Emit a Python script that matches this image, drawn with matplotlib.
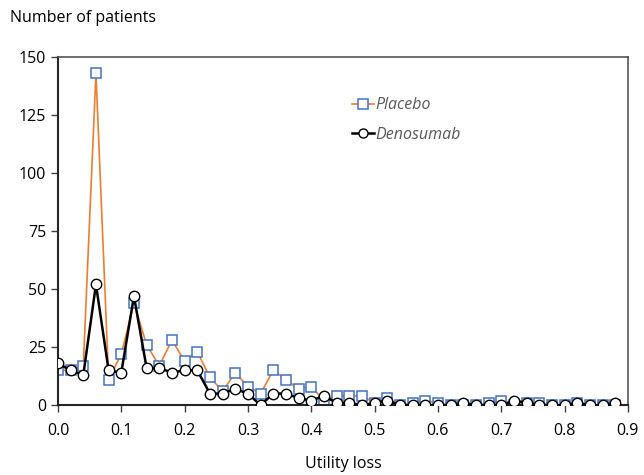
import matplotlib
matplotlib.use("Agg")
import matplotlib.pyplot as plt
import numpy as np

plt.rcParams['font.family'] = ['Open Sans', 'DejaVu Sans']

utility_loss = np.round(np.arange(0, 0.89, 0.02), 2)

placebo = [15, 15, 17, 143, 11, 22, 44, 26, 17, 28,
           19, 23, 12, 6, 14, 8, 5, 15, 11, 7,
           8, 2, 4, 4, 4, 1, 3, 0, 1, 2,
           1, 0, 0, 0, 1, 2, 0, 1, 1, 0,
           0, 1, 0, 0, 0]

denosumab = [18, 15, 13, 52, 15, 14, 47, 16, 16, 14,
             15, 15, 5, 5, 7, 5, 0, 5, 5, 3,
             2, 4, 1, 1, 0, 1, 2, 0, 0, 0,
             0, 0, 1, 0, 0, 0, 2, 1, 0, 0,
             0, 1, 0, 0, 1]

x_ticks = [0.0, 0.1, 0.2, 0.3, 0.4, 0.5, 0.6, 0.7, 0.8, 0.9]
y_ticks = [0, 25, 50, 75, 100, 125, 150]

fig = plt.figure(figsize=(6.44, 4.75), dpi=100)
ax = fig.add_axes([0.090, 0.147, 0.885, 0.733])

ax.plot(utility_loss, placebo, color='#ED7D31', lw=1.2, marker='s', ms=6.5,
        mfc='white', mec='#4472C4', mew=1.1, label='Placebo', zorder=2)
ax.plot(utility_loss, denosumab, color='black', lw=1.8, marker='o', ms=7.5,
        mfc='white', mec='black', mew=1.0, label='Denosumab', zorder=3)

ax.set_xlim(0, 0.9)
ax.set_ylim(0, 150)
ax.set_xticks(x_ticks)
ax.set_xticklabels([f'{t:.1f}' for t in x_ticks])
ax.set_yticks(y_ticks)
ax.tick_params(axis='both', labelsize=11.5, direction='out', length=5,
               width=1, color='#404040')
ax.tick_params(axis='x', pad=8)

for side in ['left', 'bottom']:
    ax.spines[side].set_color('#262626')
    ax.spines[side].set_linewidth(1.5)
for side in ['top', 'right']:
    ax.spines[side].set_color('#555555')
    ax.spines[side].set_linewidth(1.2)

ax.set_xlabel('Utility loss', fontsize=11.5, labelpad=12)
fig.text(0.016, 0.962, 'Number of patients', fontsize=11.5, va='center')

leg = ax.legend(loc='upper left', bbox_to_anchor=(0.49, 0.925), frameon=False,
                handlelength=1.4, handletextpad=0.1, labelspacing=0.85,
                prop={'style': 'italic', 'size': 11.5})
for t in leg.get_texts():
    t.set_color('#595959')
for h in leg.legend_handles:
    h.set_markersize(6.5)

plt.savefig('out.png', dpi=100)
